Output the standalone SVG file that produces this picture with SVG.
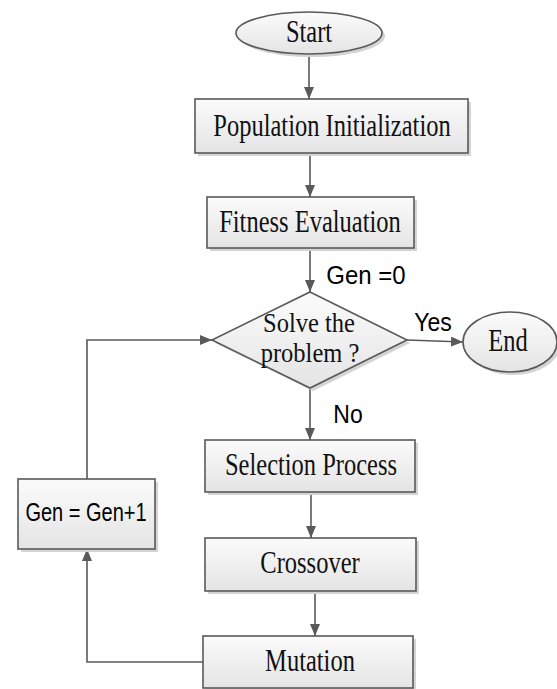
<svg xmlns="http://www.w3.org/2000/svg" width="557" height="689" viewBox="0 0 557 689">
<defs>
<linearGradient id="g" x1="0" y1="0" x2="0" y2="1">
<stop offset="0" stop-color="#fbfbfb"/>
<stop offset="1" stop-color="#e4e4e4"/>
</linearGradient>
<marker id="ah" markerWidth="12" markerHeight="10" refX="12" refY="5" orient="auto" markerUnits="userSpaceOnUse">
<path d="M0,0 L12,5 L0,10 Z" fill="#595959"/>
</marker>
</defs>
<style>
.shape{fill:url(#g);stroke:#595959;stroke-width:1.6}
.shadow{fill:#d4d4d4;stroke:none}
.conn{fill:none;stroke:#595959;stroke-width:1.6;marker-end:url(#ah)}
.t{font-family:"Liberation Serif","Times New Roman",serif;font-size:24.5px;fill:#111;text-anchor:middle}
.a{font-family:"Liberation Sans",Arial,sans-serif;fill:#000;text-anchor:middle}
</style>
<rect width="557" height="689" fill="#fff"/>

<g id="connectors">
<line class="conn" x1="309" y1="54" x2="309" y2="99"/>
<line class="conn" x1="310" y1="153" x2="310" y2="197"/>
<line class="conn" x1="310" y1="248" x2="310" y2="292"/>
<line class="conn" x1="407" y1="340" x2="463" y2="342"/>
<line class="conn" x1="310" y1="388" x2="310" y2="440"/>
<line class="conn" x1="311" y1="492" x2="311" y2="538"/>
<line class="conn" x1="315" y1="591" x2="315" y2="636"/>
<polyline class="conn" points="203,662 87,662 87,549"/>
<polyline class="conn" points="87,479 87,340 212,340"/>
</g>

<g id="start">
<ellipse class="shadow" cx="312" cy="36" rx="73" ry="21"/>
<ellipse class="shape" cx="309" cy="33" rx="73" ry="21"/>
<text class="t" transform="translate(309,42) scale(1,1.25)">Start</text>
</g>

<g id="pop-init">
<rect class="shadow" x="198" y="102" width="273" height="54"/>
<rect class="shape" x="195" y="99" width="273" height="54"/>
<text class="t" transform="translate(332,136) scale(1,1.25)">Population Initialization</text>
</g>

<g id="fitness">
<rect class="shadow" x="210" y="200" width="207" height="51"/>
<rect class="shape" x="207" y="197" width="207" height="51"/>
<text class="t" transform="translate(310,232) scale(1,1.25)">Fitness Evaluation</text>
</g>

<g id="gen0-label">
<text class="a" font-size="24" transform="translate(366,284) scale(1,1.1)">Gen =0</text>
</g>

<g id="decision">
<polygon class="shadow" points="313,295 410,343 313,391 215,343"/>
<polygon class="shape" points="310,292 407,340 310,388 212,340"/>
<text class="t" transform="translate(309,332) scale(1,1.1)">Solve the</text>
<text class="t" transform="translate(310,362) scale(1,1.1)">problem ?</text>
</g>

<g id="yes-label">
<text class="a" font-size="23" transform="translate(433,331) scale(1,1.15)">Yes</text>
</g>

<g id="end">
<ellipse class="shadow" cx="513" cy="345" rx="47" ry="30"/>
<ellipse class="shape" cx="510" cy="342" rx="47" ry="30"/>
<text class="t" transform="translate(508,351) scale(1,1.25)">End</text>
</g>

<g id="no-label">
<text class="a" font-size="23" transform="translate(348,423) scale(1,1.15)">No</text>
</g>

<g id="selection">
<rect class="shadow" x="208" y="443" width="210" height="52"/>
<rect class="shape" x="205" y="440" width="210" height="52"/>
<text class="t" transform="translate(311,475) scale(1,1.25)">Selection Process</text>
</g>

<g id="crossover">
<rect class="shadow" x="208" y="541" width="211" height="53"/>
<rect class="shape" x="205" y="538" width="211" height="53"/>
<text class="t" transform="translate(310,573) scale(1,1.25)">Crossover</text>
</g>

<g id="mutation">
<rect class="shadow" x="206" y="639" width="210" height="52"/>
<rect class="shape" x="203" y="636" width="210" height="52"/>
<text class="t" transform="translate(310,671) scale(1,1.25)">Mutation</text>
</g>

<g id="gen-inc">
<rect class="shadow" x="21" y="482" width="137" height="70"/>
<rect class="shape" x="18" y="479" width="137" height="70"/>
<text class="a" font-size="20" transform="translate(86,521) scale(1,1.25)">Gen = Gen+1</text>
</g>
</svg>
